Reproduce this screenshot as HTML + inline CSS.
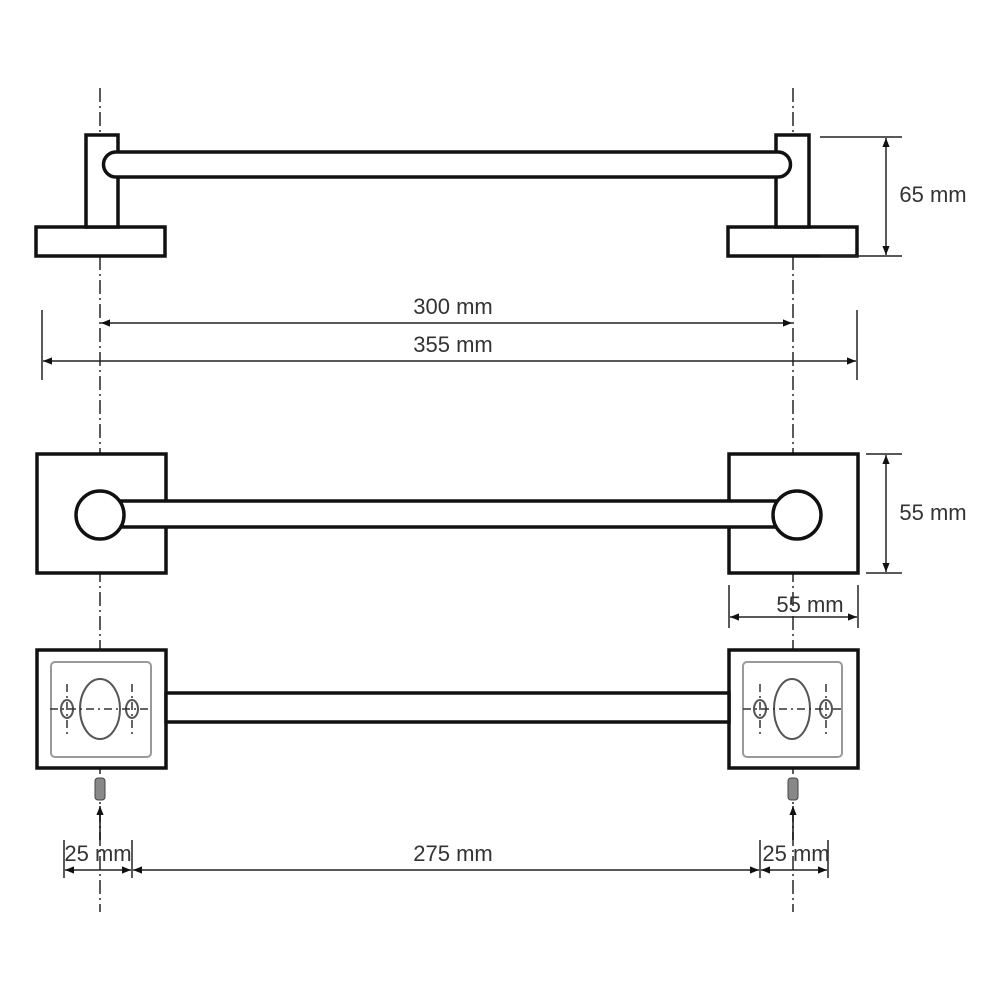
<!DOCTYPE html>
<html><head><meta charset="utf-8"><style>
html,body{margin:0;padding:0;background:#fff;}
svg{display:block;}
text{font-family:"Liberation Sans",sans-serif;font-size:22px;fill:#333;text-anchor:middle;}
</style></head><body>
<svg width="1000" height="1000" viewBox="0 0 1000 1000" xmlns="http://www.w3.org/2000/svg">
<defs>
<marker id="a" viewBox="0 0 10 10" refX="10" refY="5" markerWidth="9" markerHeight="9" orient="auto-start-reverse" markerUnits="userSpaceOnUse"><path d="M0,1 L10,5 L0,9 z" fill="#111"/></marker>
</defs>
<g stroke="#333" stroke-width="1.6" stroke-dasharray="14,4,2,4">
<line x1="100" y1="88" x2="100" y2="912"/>
<line x1="793" y1="88" x2="793" y2="912"/>
</g>
<g fill="#fff" stroke="#111" stroke-width="3.5">
<rect x="36" y="227" width="129" height="29"/>
<rect x="728" y="227" width="129" height="29"/>
<rect x="86" y="135" width="32" height="92"/>
<rect x="776" y="135" width="33" height="92"/>
<path d="M116,152 L778,152 A12.5,12.5 0 0 1 778,177 L116,177 A12.5,12.5 0 0 1 116,152 Z"/>
<rect x="37" y="454" width="129" height="119"/>
<rect x="729" y="454" width="129" height="119"/>
<rect x="110" y="501" width="680" height="26"/>
<circle cx="100" cy="515" r="24"/>
<circle cx="797" cy="515" r="24"/>
<rect x="37" y="650" width="129" height="118"/>
<rect x="729" y="650" width="129" height="118"/>
<rect x="166" y="693" width="563" height="29"/>
</g>
<g fill="none" stroke="#999" stroke-width="2">
<rect x="51" y="662" width="100" height="95" rx="4"/>
<rect x="743" y="662" width="99" height="95" rx="4"/>
</g>
<g fill="none" stroke="#555" stroke-width="2">
<ellipse cx="100" cy="709" rx="20" ry="30"/>
<ellipse cx="792" cy="709" rx="18" ry="30"/>
<ellipse cx="67" cy="709" rx="6" ry="9"/>
<ellipse cx="132" cy="709" rx="6" ry="9"/>
<ellipse cx="760" cy="709" rx="6" ry="9"/>
<ellipse cx="826" cy="709" rx="6" ry="9"/>
</g>
<g stroke="#333" stroke-width="1.5" stroke-dasharray="8,4,2,4">
<line x1="50" y1="709" x2="150" y2="709"/>
<line x1="743" y1="709" x2="842" y2="709"/>
<line x1="67" y1="684" x2="67" y2="735"/>
<line x1="132" y1="684" x2="132" y2="735"/>
<line x1="760" y1="684" x2="760" y2="735"/>
<line x1="826" y1="684" x2="826" y2="735"/>
</g>
<rect x="95" y="778" width="10" height="22" rx="3" fill="#888" stroke="#444" stroke-width="1"/>
<rect x="788" y="778" width="10" height="22" rx="3" fill="#888" stroke="#444" stroke-width="1"/>
<g stroke="#111" stroke-width="1.5">
<line x1="100" y1="840" x2="100" y2="806" marker-end="url(#a)"/>
<line x1="793" y1="840" x2="793" y2="806" marker-end="url(#a)"/>
</g>
<g stroke="#222" stroke-width="1.5" fill="none">
<line x1="820" y1="137" x2="902" y2="137"/>
<line x1="820" y1="256" x2="902" y2="256"/>
<line x1="886" y1="138" x2="886" y2="255" marker-start="url(#a)" marker-end="url(#a)"/>
<line x1="101" y1="323" x2="792" y2="323" marker-start="url(#a)" marker-end="url(#a)"/>
<line x1="42" y1="310" x2="42" y2="380"/>
<line x1="857" y1="310" x2="857" y2="380"/>
<line x1="43" y1="361" x2="856" y2="361" marker-start="url(#a)" marker-end="url(#a)"/>
<line x1="866" y1="454" x2="902" y2="454"/>
<line x1="866" y1="573" x2="902" y2="573"/>
<line x1="886" y1="455" x2="886" y2="572" marker-start="url(#a)" marker-end="url(#a)"/>
<line x1="729" y1="585" x2="729" y2="628"/>
<line x1="858" y1="585" x2="858" y2="628"/>
<line x1="730" y1="617" x2="857" y2="617" marker-start="url(#a)" marker-end="url(#a)"/>
<line x1="64" y1="840" x2="64" y2="878"/>
<line x1="132" y1="840" x2="132" y2="878"/>
<line x1="760" y1="840" x2="760" y2="878"/>
<line x1="828" y1="840" x2="828" y2="878"/>
<line x1="65" y1="870" x2="131" y2="870" marker-start="url(#a)" marker-end="url(#a)"/>
<line x1="133" y1="870" x2="759" y2="870" marker-start="url(#a)" marker-end="url(#a)"/>
<line x1="761" y1="870" x2="827" y2="870" marker-start="url(#a)" marker-end="url(#a)"/>
</g>
<text x="933" y="202">65 mm</text>
<text x="453" y="314">300 mm</text>
<text x="453" y="352">355 mm</text>
<text x="933" y="520">55 mm</text>
<text x="810" y="612">55 mm</text>
<text x="98" y="861">25 mm</text>
<text x="453" y="861">275 mm</text>
<text x="796" y="861">25 mm</text>
</svg>
</body></html>
